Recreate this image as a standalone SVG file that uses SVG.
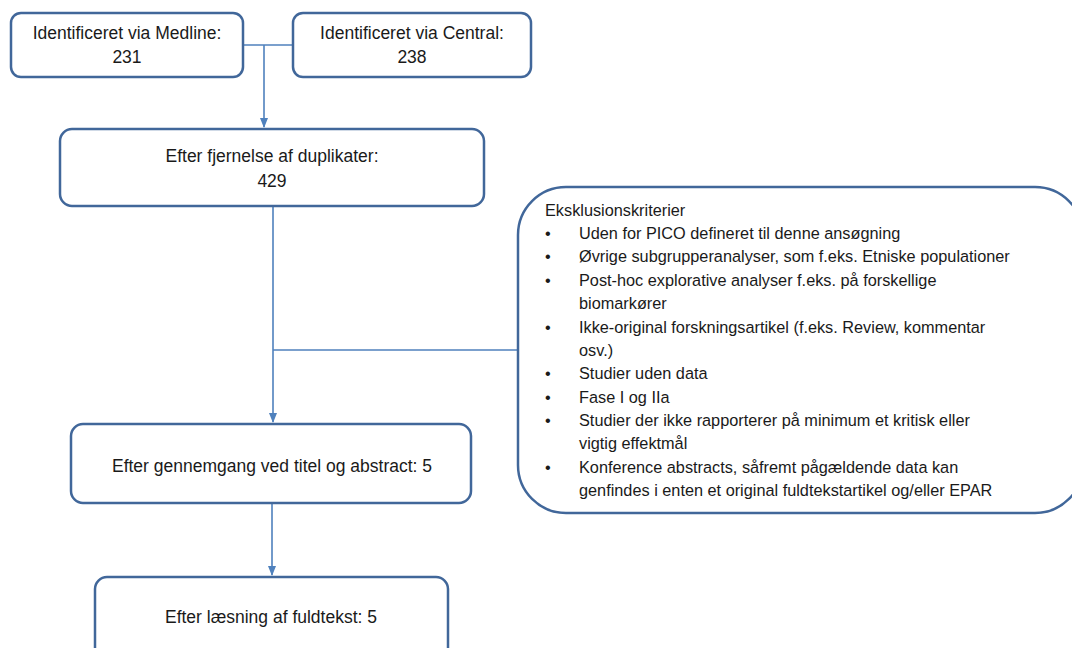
<svg xmlns="http://www.w3.org/2000/svg" width="1072" height="648" viewBox="0 0 1072 648">
<defs>
<style>
.box{fill:#fff;stroke:#41679A;stroke-width:2.5}
.conn{fill:none;stroke:#4F81BD;stroke-width:1.6}
text{font-family:"Liberation Sans",Arial,sans-serif;font-size:17.5px;fill:#1a1a1a}
.ex text{font-size:16.3px}
.c{text-anchor:middle}
</style>
<marker id="arr" markerWidth="10" markerHeight="8" refX="9" refY="4" orient="auto" markerUnits="userSpaceOnUse">
<path d="M0,0 L10,4 L0,8 z" fill="#4F81BD"/>
</marker>
</defs>
<rect width="1072" height="648" fill="#fff"/>
<g id="connectors">
<path class="conn" d="M243,45 H293"/>
<path class="conn" d="M264,45 V127" marker-end="url(#arr)"/>
<path class="conn" d="M273,206 V422" marker-end="url(#arr)"/>
<path class="conn" d="M273,350 H518"/>
<path class="conn" d="M272,503 V575" marker-end="url(#arr)"/>
</g>
<g id="medline">
<rect class="box" x="11" y="13" width="232" height="64" rx="10"/>
<text class="c" x="127" y="39">Identificeret via Medline:</text>
<text class="c" x="127" y="63">231</text>
</g>
<g id="central">
<rect class="box" x="293" y="13" width="238" height="64" rx="10"/>
<text class="c" x="412" y="39">Identificeret via Central:</text>
<text class="c" x="412" y="63">238</text>
</g>
<g id="duplikater">
<rect class="box" x="60" y="129" width="424" height="77" rx="12"/>
<text class="c" x="272" y="162">Efter fjernelse af duplikater:</text>
<text class="c" x="272" y="187">429</text>
</g>
<g id="eksklusion" class="ex">
<rect class="box" x="518" y="187" width="565" height="326" rx="48"/>
<text x="545" y="216">Eksklusionskriterier</text>
<text x="545" y="239">•</text><text x="579" y="239">Uden for PICO defineret til denne ansøgning</text>
<text x="545" y="262">•</text><text x="579" y="262">Øvrige subgrupperanalyser, som f.eks. Etniske populationer</text>
<text x="545" y="286">•</text><text x="579" y="286">Post-hoc explorative analyser f.eks. på forskellige</text>
<text x="579" y="309">biomarkører</text>
<text x="545" y="333">•</text><text x="579" y="333">Ikke-original forskningsartikel (f.eks. Review, kommentar</text>
<text x="579" y="356">osv.)</text>
<text x="545" y="379">•</text><text x="579" y="379">Studier uden data</text>
<text x="545" y="403">•</text><text x="579" y="403">Fase I og IIa</text>
<text x="545" y="426">•</text><text x="579" y="426">Studier der ikke rapporterer på minimum et kritisk eller</text>
<text x="579" y="449">vigtig effektmål</text>
<text x="545" y="473">•</text><text x="579" y="473">Konference abstracts, såfremt pågældende data kan</text>
<text x="579" y="496">genfindes i enten et original fuldtekstartikel og/eller EPAR</text>
</g>
<g id="titel">
<rect class="box" x="71" y="424" width="400" height="79" rx="12"/>
<text class="c" x="272" y="472">Efter gennemgang ved titel og abstract: 5</text>
</g>
<g id="fuldtekst">
<rect class="box" x="95" y="577" width="353" height="90" rx="12"/>
<text class="c" x="271" y="623">Efter læsning af fuldtekst: 5</text>
</g>
</svg>
